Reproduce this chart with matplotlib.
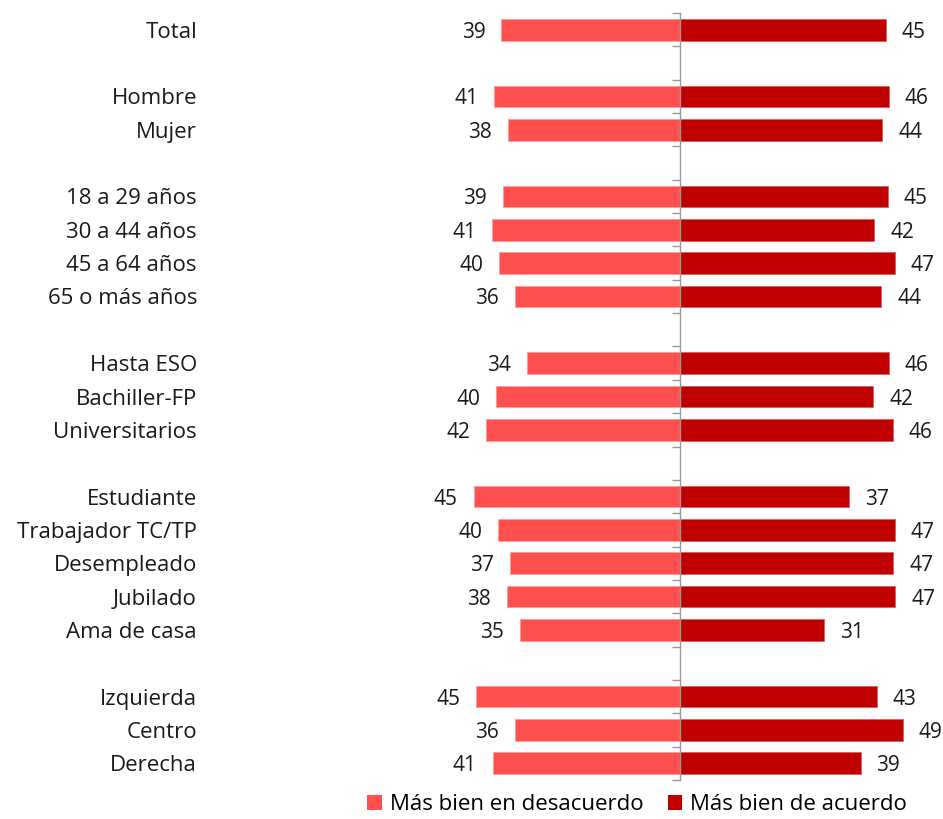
import matplotlib
matplotlib.use("Agg")
import matplotlib.pyplot as plt
import matplotlib.transforms as mtransforms
from matplotlib.patches import Patch

plt.rcParams['font.family'] = ['Open Sans', 'DejaVu Sans']

categories = ["Total", "", "Hombre", "Mujer", "",
              "18 a 29 años", "30 a 44 años", "45 a 64 años", "65 o más años", "",
              "Hasta ESO", "Bachiller-FP", "Universitarios", "",
              "Estudiante", "Trabajador TC/TP", "Desempleado", "Jubilado", "Ama de casa", "",
              "Izquierda", "Centro", "Derecha"]

desacuerdo = [39.1, None, 40.7, 37.7, None,
              38.8, 41.1, 39.6, 36.1, None,
              33.6, 40.3, 42.4, None,
              45.2, 39.8, 37.2, 37.9, 35.0, None,
              44.6, 36.1, 41.0]

acuerdo = [44.9, None, 45.6, 44.1, None,
           45.4, 42.4, 46.9, 43.9, None,
           45.6, 42.2, 46.4, None,
           36.9, 46.9, 46.6, 47.0, 31.4, None,
           42.9, 48.6, 39.4]

series_names = ["Más bien en desacuerdo", "Más bien de acuerdo"]
colors = ["#FF5050", "#C00000"]

W, H = 943, 819
fig = plt.figure(figsize=(W / 100, H / 100), dpi=100)

center_px = 680.3
scale = 4.575  # px per unit
xmin, xmax = -50, 55
left_px = center_px + xmin * scale
right_px = center_px + xmax * scale
top_px, bottom_px = 13, 780
ax = fig.add_axes([left_px / W, 1 - bottom_px / H,
                   (right_px - left_px) / W, (bottom_px - top_px) / H])

FS = 16
FS_VAL = 15
BASE = 0.24  # baseline offset (rows) so text is visually centred
n = len(categories)
ys = list(range(n))
bar_h = 0.65
for y, dv, av in zip(ys, desacuerdo, acuerdo):
    if dv is not None:
        ax.barh(y, -dv, height=bar_h, color=colors[0], edgecolor="#ff9a9a", linewidth=0.6)
        ax.annotate(f"{round(dv)}", xy=(-dv, y + BASE), xytext=(-11.5, 0), textcoords="offset points",
                    ha="right", va="baseline", fontsize=FS_VAL, color="#1a1a1a")
    if av is not None:
        ax.barh(y, av, height=bar_h, color=colors[1], edgecolor="#d86060", linewidth=0.6)
        ax.annotate(f"{round(av)}", xy=(av, y + BASE), xytext=(11.5, 0), textcoords="offset points",
                    ha="left", va="baseline", fontsize=FS_VAL, color="#1a1a1a")

ax.set_xlim(xmin, xmax)
ax.set_ylim(n - 0.5, -0.5)

for s in ["top", "right", "bottom"]:
    ax.spines[s].set_visible(False)
ax.spines["left"].set_position(("data", 0))
ax.spines["left"].set_color("#999999")
ax.spines["left"].set_linewidth(1.0)
ax.set_xticks([])
ax.set_yticks([i - 0.5 for i in range(n + 1)])
ax.set_yticklabels([])
ax.tick_params(axis="y", direction="out", length=5.5, width=1.0, color="#999999")

trans = mtransforms.blended_transform_factory(fig.transFigure, ax.transData)
for y, c in zip(ys, categories):
    if c:
        ax.text(197 / W, y + BASE, c, transform=trans, ha="right", va="baseline",
                fontsize=FS, color="#1a1a1a")

handles = [Patch(facecolor=colors[0]), Patch(facecolor=colors[1])]
fig.legend(handles, series_names, loc="center", bbox_to_anchor=(637 / W, 1 - 805 / H),
           ncol=2, frameon=False, fontsize=FS, handlelength=0.65, handleheight=0.65,
           handletextpad=0.35, columnspacing=1.1)

fig.savefig("out.png", dpi=100)
